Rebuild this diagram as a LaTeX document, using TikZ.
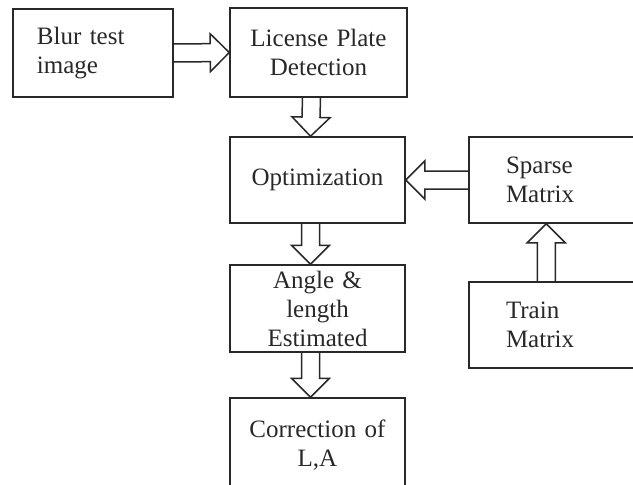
\documentclass[tikz,border=0pt]{standalone}
\usepackage{fontspec}
\setmainfont{Liberation Serif}
\usetikzlibrary{calc}
\definecolor{ink}{RGB}{40,40,40}

% hollow block arrow from #1 to #2
\newcommand{\fatarrow}[2]{%
  \coordinate (fa-s) at (#1);
  \coordinate (fa-t) at (#2);
  \coordinate (fa-b) at ($(fa-t)!19pt!(fa-s)$);
  \draw[fat] ($(fa-s)!9pt!90:(fa-t)$) -- ($(fa-b)!9pt!90:(fa-t)$)
    -- ($(fa-b)!19pt!90:(fa-t)$) -- (fa-t)
    -- ($(fa-b)!19pt!-90:(fa-t)$) -- ($(fa-b)!9pt!-90:(fa-t)$)
    -- ($(fa-s)!9pt!-90:(fa-t)$);
}

\begin{document}
\begin{tikzpicture}[x=1pt, y=-1pt,
  box/.style={draw=ink, line width=1.5pt, text=ink, inner ysep=2pt,
    font=\fontsize{25}{29}\selectfont, minimum height=88pt},
  mid/.style={box, align=center, text width=150pt, inner xsep=12.5pt},
  side/.style={box, align=left},
  fat/.style={draw=ink, line width=1.5pt, line join=miter}]
\useasboundingbox (0,0) rectangle (633,485);
\clip (0,0) rectangle (633,485);

% Nodes
\node[side, text width=112pt, inner xsep=24pt] (blur) at (93,53) {Blur test\\image};
\node[mid, text width=152pt, minimum height=89pt] (lpd) at (318.5,52.5) {License Plate\\Detection};
\node[mid, minimum height=86pt] (opt) at (317.5,180) {Optimization};
\node[side, text width=126pt, inner xsep=37pt, minimum height=86pt] (spm) at (569,180) {Sparse\\Matrix};
\node[mid, minimum height=87pt] (ang) at (317.5,308.5) {Angle \&\\length\\Estimated};
\node[side, text width=126pt, inner xsep=37pt, minimum height=86pt] (trn) at (569,325) {Train\\Matrix};
\node[mid, minimum height=94pt] (cor) at (317.5,445) {Correction of\\L,A};

% Arrows
\fatarrow{blur.east}{lpd.west}
\fatarrow{[xshift=-7pt]lpd.south}{[xshift=-7pt]opt.north}
\fatarrow{[xshift=-7pt]opt.south}{[xshift=-7pt]ang.north}
\fatarrow{[xshift=-7pt]ang.south}{[xshift=-7pt]cor.north}
\fatarrow{spm.west}{opt.east}
\fatarrow{[xshift=78pt]trn.north west}{[xshift=78pt]spm.south west}
\end{tikzpicture}
\end{document}
